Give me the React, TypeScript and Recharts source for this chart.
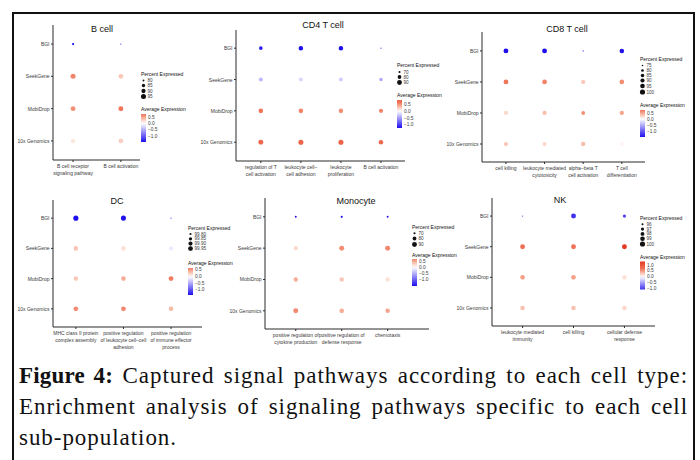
import React from "react";
import { ScatterChart, Scatter, XAxis, YAxis, ZAxis, Cell } from "recharts";

const FONT = "'Liberation Sans', Arial, sans-serif";
const TEXT = "#3a3a3a";
const AXIS = "#2a2a2a";

const platforms = ["BGI", "SeekGene", "MobiDrop", "10x Genomics"];

// rows follow `platforms`, columns follow the pathway list
const bCellPathways = ["B cell receptor\nsignaling pathway", "B cell activation"];
const bCellPercent = [
  [81, 78.5],
  [95, 93],
  [93.5, 94.5],
  [92, 93],
];
const bCellExpression = [
  [-1.46, -1.3],
  [0.65, 0.3],
  [0.6, 0.74],
  [0.12, 0.26],
];
const bCellSizeBreaks = [80, 85, 90, 95];

const cd4Pathways = ["regulation of T\ncell activation", "leukocyte cell\u2013\ncell adhesion", "leukocyte\nproliferation", "B cell activation"];
const cd4Percent = [
  [79, 87, 87, 67],
  [83, 83, 83, 77],
  [87, 87, 87, 84],
  [91, 92, 92, 86],
];
const cd4Expression = [
  [-1.15, -1.22, -1.22, -0.9],
  [-0.35, -0.2, -0.25, -0.45],
  [0.62, 0.55, 0.5, 0.55],
  [0.75, 0.78, 0.8, 0.76],
];
const cd4SizeBreaks = [70, 80, 90];

const cd8Pathways = ["cell killing", "leukocyte mediated\ncytotoxicity", "alpha\u2013beta T\ncell activation", "T cell\ndifferentiation"];
const cd8Percent = [
  [97, 97, 74, 94],
  [96, 96, 91, 95],
  [91, 91, 88, 91],
  [91, 91, 91.5, 90],
];
const cd8Expression = [
  [-1.5, -1.5, -1.2, -1.48],
  [0.75, 0.68, 0.3, 0.62],
  [0.22, 0.36, 0.6, 0.5],
  [0.32, 0.22, 0.38, 0.06],
];
const cd8SizeBreaks = [75, 80, 85, 90, 95, 100];

const dcPathways = [
  "MHC class II protein\ncomplex assembly",
  "positive regulation\nof leukocyte cell\u2013cell\nadhesion",
  "positive regulation\nof immune effector\nprocess",
];
const dcPercent = [
  [99.975, 99.97, 99.78],
  [99.93, 99.93, 99.9],
  [99.93, 99.935, 99.96],
  [99.95, 99.95, 99.93],
];
const dcExpression = [
  [-1.38, -1.36, -0.9],
  [0.3, 0.16, -0.12],
  [0.28, 0.42, 0.65],
  [0.58, 0.6, 0.36],
];
const dcSizeBreaks = [99.8, 99.85, 99.9, 99.95];

const monoPathways = ["positive regulation of\ncytokine production", "positive regulation of\ndefense response", "chemotaxis"];
const monoPercent = [
  [69, 70, 69],
  [84, 91, 91],
  [86, 86, 84],
  [91, 88, 86],
];
const monoExpression = [
  [-1.5, -1.5, -1.5],
  [0.22, 0.62, 0.66],
  [0.45, 0.32, 0.18],
  [0.64, 0.45, 0.5],
];
const monoSizeBreaks = [70, 80, 90];

const nkPathways = ["leukocyte mediated\nimmunity", "cell killing", "cellular defense\nresponse"];
const nkPercent = [
  [95.6, 99.6, 97.2],
  [99.5, 99.5, 99.5],
  [99.1, 99.1, 98.6],
  [99.0, 99.0, 98.9],
];
const nkExpression = [
  [-0.9, -1.1, -1.0],
  [0.72, 0.7, 1.3],
  [0.45, 0.45, 0.16],
  [0.3, 0.3, 0.2],
];
const nkSizeBreaks = [96, 97, 98, 99, 100];

const colorBreaks = [0.5, 0, -0.5, -1];
const nkColorBreaks = [1, 0.5, 0, -0.5, -1];

const AREA_RANGE = [0.6, 21];

const LOW = [30, 14, 238];
const HIGH_STOPS: [number, number[]][] = [
  [0, [255, 255, 255]],
  [0.25, [248, 188, 168]],
  [0.5, [240, 118, 90]],
  [1, [226, 56, 34]],
];

function mix(a: number[], b: number[], t: number) {
  return a.map((v, i) => Math.round(v + (b[i] - v) * t));
}

function expColor(v: number, maxAbs: number) {
  const t = Math.min(1, Math.abs(v) / maxAbs);
  if (v < 0) return `rgb(${mix([255, 255, 255], LOW, t).join(",")})`;
  for (let i = 1; i < HIGH_STOPS.length; i++) {
    const [t0, c0] = HIGH_STOPS[i - 1];
    const [t1, c1] = HIGH_STOPS[i];
    if (t <= t1) return `rgb(${mix(c0, c1, (t - t0) / (t1 - t0)).join(",")})`;
  }
  return `rgb(${HIGH_STOPS[HIGH_STOPS.length - 1][1].join(",")})`;
}

const panels = [
  {
    id: "bcell", title: "B cell", titleX: 102, titleY: 29,
    pathways: bCellPathways, percent: bCellPercent, expression: bCellExpression,
    sizeDomain: [78, 96], sizeBreaks: bCellSizeBreaks, digits: 0, colorBreaks,
    plot: { x: 53, y: 25, w: 87, h: 135 }, xDomain: [-0.42, 1.4], yDomain: [-0.59, 3.59],
    legend: { x: 141, pe: 74, keys: [80.5, 85.5, 91, 96.5], ae: 109, barTop: 114, barBottom: 142 },
  },
  {
    id: "cd4", title: "CD4 T cell", titleX: 323, titleY: 25,
    pathways: cd4Pathways, percent: cd4Percent, expression: cd4Expression,
    sizeDomain: [66, 93], sizeBreaks: cd4SizeBreaks, digits: 0, colorBreaks,
    plot: { x: 236, y: 30, w: 169, h: 131 }, xDomain: [-0.62, 3.6], yDomain: [-0.58, 3.6],
    legend: { x: 397, pe: 65, keys: [72, 77, 82.5], ae: 95, barTop: 100, barBottom: 128 },
  },
  {
    id: "cd8", title: "CD8 T cell", titleX: 567, titleY: 29,
    pathways: cd8Pathways, percent: cd8Percent, expression: cd8Expression,
    sizeDomain: [73, 100], sizeBreaks: cd8SizeBreaks, digits: 0, colorBreaks,
    plot: { x: 482, y: 32, w: 163, h: 130 }, xDomain: [-0.62, 3.6], yDomain: [-0.61, 3.58],
    legend: { x: 640, pe: 59, keys: [65.5, 70.5, 75.5, 80.5, 86, 92], ae: 105, barTop: 110, barBottom: 137 },
  },
  {
    id: "dc", title: "DC", titleX: 117, titleY: 201,
    pathways: dcPathways, percent: dcPercent, expression: dcExpression,
    sizeDomain: [99.77, 99.98], sizeBreaks: dcSizeBreaks, digits: 2, colorBreaks,
    plot: { x: 53, y: 200, w: 149, h: 127 }, xDomain: [-0.48, 2.65], yDomain: [-0.6, 3.6],
    legend: { x: 188, pe: 228, keys: [234, 238.8, 243.6, 248.6], ae: 263, barTop: 268, barBottom: 295 },
  },
  {
    id: "mono", title: "Monocyte", titleX: 356, titleY: 201,
    pathways: monoPathways, percent: monoPercent, expression: monoExpression,
    sizeDomain: [66, 93], sizeBreaks: monoSizeBreaks, digits: 0, colorBreaks,
    plot: { x: 265, y: 198, w: 164, h: 131 }, xDomain: [-0.67, 2.9], yDomain: [-0.6, 3.58],
    legend: { x: 412, pe: 227, keys: [233.3, 238.5, 244.5], ae: 255, barTop: 259, barBottom: 286 },
  },
  {
    id: "nk", title: "NK", titleX: 560, titleY: 200,
    pathways: nkPathways, percent: nkPercent, expression: nkExpression,
    sizeDomain: [95.4, 100], sizeBreaks: nkSizeBreaks, digits: 0, colorBreaks: nkColorBreaks,
    plot: { x: 492, y: 198, w: 163, h: 128 }, xDomain: [-0.6, 2.6], yDomain: [-0.59, 3.59],
    legend: { x: 640, pe: 218, keys: [224.3, 229.1, 233.9, 238.7, 244], ae: 257, barTop: 261.5, barBottom: 289.5 },
  },
];

function panelRows(p) {
  const rows = [];
  p.percent.forEach((row, r) =>
    row.forEach((pct, c) => rows.push({ x: c, y: r, pct, expr: p.expression[r][c] }))
  );
  return rows;
}

function exprRange(p) {
  const vals = p.expression.flat();
  const min = Math.min(...vals);
  const max = Math.max(...vals);
  return { min, max, maxAbs: Math.max(Math.abs(min), Math.abs(max)) };
}

const fmt = (v: number, digits: number) => v.toFixed(digits).replace("-", "\u2212");

const Y_AXIS_W = 50;
const PAD = 4;
const X_AXIS_H = 34;

function YTick(props) {
  const { x, y, payload } = props;
  return (
    <text x={x} y={y} textAnchor="end" dominantBaseline="central" fontSize={5} fill={TEXT} fontFamily={FONT}>
      {platforms[payload.value]}
    </text>
  );
}

function DotPanel({ p }) {
  const data = panelRows(p);
  const { maxAbs } = exprRange(p);
  const xTick = (props) => {
    const { x, y, payload } = props;
    const lines = p.pathways[payload.value].split("\n");
    return (
      <text x={x} y={y} textAnchor="middle" fontSize={5} fill={TEXT} fontFamily={FONT}>
        {lines.map((line, i) => (
          <tspan key={i} x={x} dy={i === 0 ? 5 : 7}>{line}</tspan>
        ))}
      </text>
    );
  };

  return (
    <div style={{ position: "absolute", left: p.plot.x - Y_AXIS_W, top: p.plot.y - PAD }}>
      <ScatterChart
        width={Y_AXIS_W + p.plot.w + PAD}
        height={PAD + p.plot.h + X_AXIS_H}
        margin={{ top: PAD, right: PAD, bottom: 0, left: 0 }}
      >
        <XAxis
          type="number"
          dataKey="x"
          domain={p.xDomain}
          ticks={p.pathways.map((_, i) => i)}
          interval={0}
          height={X_AXIS_H}
          tick={xTick}
          tickSize={2}
          tickMargin={1}
          stroke={AXIS}
          strokeWidth={1}
          axisLine={true}
          tickLine={true}
          allowDataOverflow
        />
        <YAxis
          type="number"
          dataKey="y"
          domain={p.yDomain}
          reversed
          ticks={[0, 1, 2, 3]}
          interval={0}
          width={Y_AXIS_W}
          tick={<YTick />}
          tickSize={2}
          tickMargin={1.5}
          stroke={AXIS}
          strokeWidth={1}
          axisLine={true}
          tickLine={true}
          allowDataOverflow
        />
        <ZAxis type="number" dataKey="pct" domain={p.sizeDomain} range={AREA_RANGE} />
        <Scatter data={data} isAnimationActive={false}>
          {data.map((d, i) => (
            <Cell key={i} fill={expColor(d.expr, maxAbs)} />
          ))}
        </Scatter>
      </ScatterChart>
    </div>
  );
}

function keyRadius(p, v) {
  const [d0, d1] = p.sizeDomain;
  const area = AREA_RANGE[0] + ((v - d0) / (d1 - d0)) * (AREA_RANGE[1] - AREA_RANGE[0]);
  return Math.sqrt(Math.max(area, 0) / Math.PI);
}

function Overlay() {
  return (
    <svg width={700} height={460} style={{ position: "absolute", left: 0, top: 0, pointerEvents: "none" }}>
      <defs>
        {panels.map((p) => {
          const { min, max, maxAbs } = exprRange(p);
          const steps = 12;
          return (
            <linearGradient key={p.id} id={`bar-${p.id}`} x1="0" y1="0" x2="0" y2="1">
              {Array.from({ length: steps + 1 }, (_, i) => {
                const v = max - ((max - min) * i) / steps;
                return <stop key={i} offset={i / steps} stopColor={expColor(v, maxAbs)} />;
              })}
            </linearGradient>
          );
        })}
      </defs>
      {panels.map((p) => {
        const { min, max } = exprRange(p);
        const L = p.legend;
        const barH = L.barBottom - L.barTop;
        return (
          <g key={p.id} fontFamily={FONT}>
            <text x={p.titleX} y={p.titleY} textAnchor="middle" dominantBaseline="central" fontSize={9} fill="#111">
              {p.title}
            </text>
            <text x={L.x} y={L.pe} dominantBaseline="central" fontSize={5} fill="#111">Percent Expressed</text>
            {p.sizeBreaks.map((b, i) => (
              <g key={b}>
                <circle cx={L.x + 2.5} cy={L.keys[i]} r={keyRadius(p, b)} fill="#111" />
                <text x={L.x + 6.5} y={L.keys[i]} dominantBaseline="central" fontSize={4.6} fill={TEXT}>
                  {fmt(b, p.digits)}
                </text>
              </g>
            ))}
            <text x={L.x} y={L.ae} dominantBaseline="central" fontSize={5} fill="#111">Average Expression</text>
            <rect x={L.x} y={L.barTop} width={5} height={barH} fill={`url(#bar-${p.id})`} />
            {p.colorBreaks
              .filter((b) => b <= max && b >= min)
              .map((b) => (
                <text
                  key={b}
                  x={L.x + 7}
                  y={L.barTop + ((max - b) / (max - min)) * barH}
                  dominantBaseline="central"
                  fontSize={4.8}
                  fill={TEXT}
                >
                  {fmt(b, 1)}
                </text>
              ))}
          </g>
        );
      })}
    </svg>
  );
}

function Caption() {
  const justified = { textAlign: "justify" as const, textAlignLast: "justify" as const };
  return (
    <div
      style={{
        position: "absolute",
        left: 19,
        top: 360,
        width: 669,
        fontFamily: "'Liberation Serif', 'Times New Roman', serif",
        fontSize: 23,
        lineHeight: "31px",
        letterSpacing: "0.95px",
        color: "#111",
      }}
    >
      <div style={justified}>
        <b style={{ letterSpacing: "0.2px" }}>Figure 4:</b> Captured signal pathways according to each cell type:
      </div>
      <div style={justified}>Enrichment analysis of signaling pathways specific to each cell</div>
      <div>sub-population.</div>
    </div>
  );
}

export default function App() {
  return (
    <div
      style={{
        position: "absolute",
        left: 0,
        top: 0,
        width: 700,
        height: 460,
        background: "#fff",
        overflow: "hidden",
        fontFamily: FONT,
      }}
    >
      <div style={{ position: "absolute", left: 12, top: 12, width: 679, height: 480, border: "2px solid #111" }} />
      {panels.map((p) => (
        <DotPanel key={p.id} p={p} />
      ))}
      <Overlay />
      <Caption />
    </div>
  );
}
